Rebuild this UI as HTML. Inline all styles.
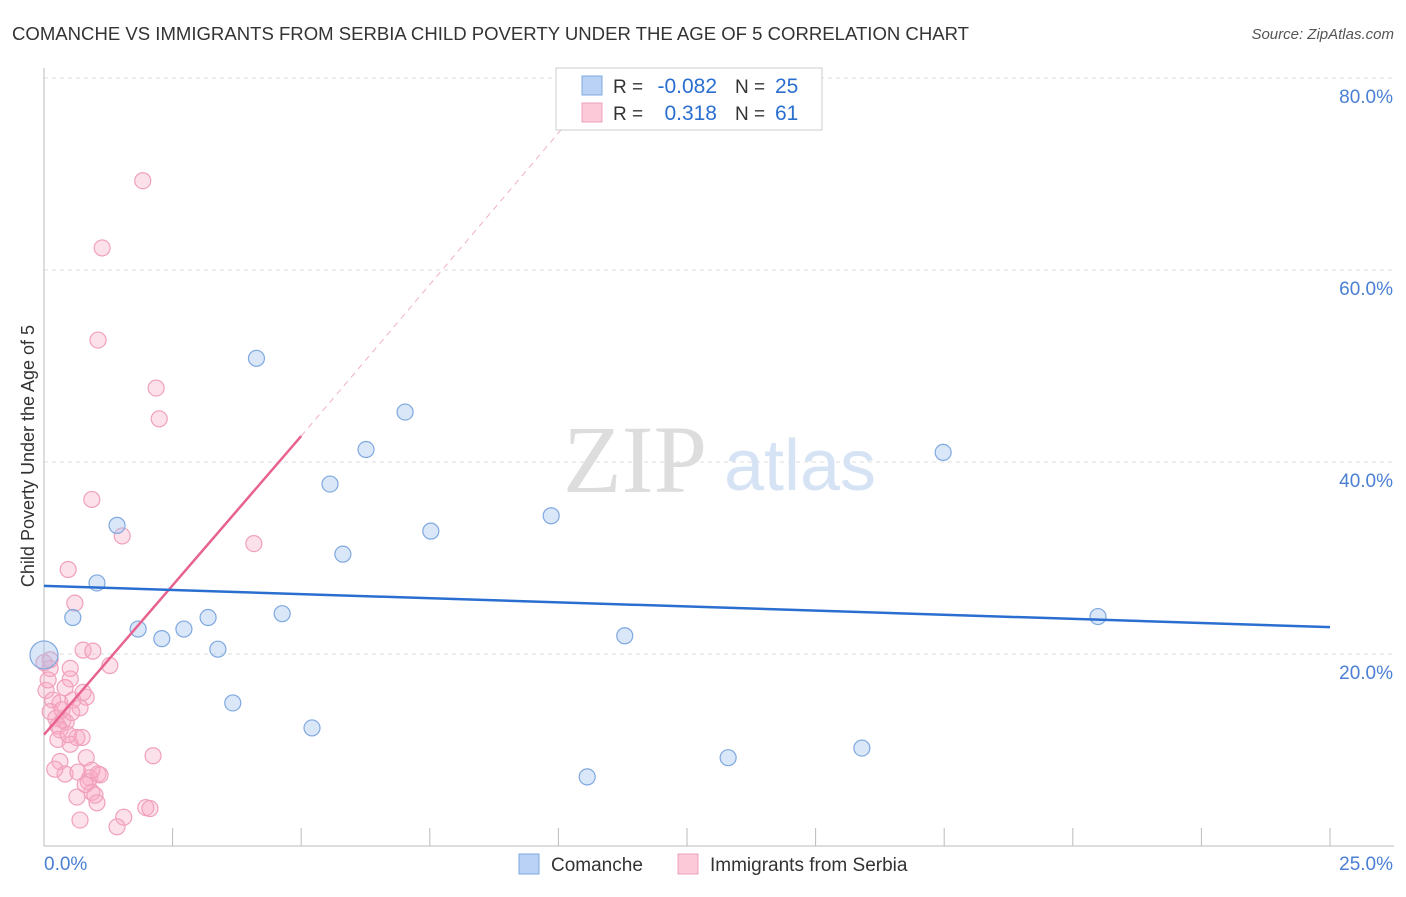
<!DOCTYPE html>
<html><head><meta charset="utf-8"><style>
body{margin:0;background:#fff;font-family:"Liberation Sans",sans-serif;}
#wrap{position:relative;width:1406px;height:892px;}
</style></head><body>
<div id="wrap">
<svg id="svg" width="1406" height="892"></svg>
</div>
<script>
const blueX=[4.13,7.02,6.26,17.48,5.56,9.86,1.42,7.52,5.81,1.03,0.56,3.19,4.63,1.83,2.72,2.29,11.29,20.49,3.38,0.0,3.67,5.21,15.9,13.3,10.56];
const blueY=[50.8,45.2,41.3,41.0,37.7,34.4,33.4,32.8,30.4,27.4,23.8,23.8,24.2,22.6,22.6,21.6,21.9,23.9,20.5,19.9,14.9,12.3,10.2,9.2,7.2];
const pinkX=[1.92,1.13,1.05,2.18,2.24,0.93,1.52,4.08,0.47,0.6,0.76,0.95,1.28,0,0.12,0.51,0.51,0.04,0.41,0.82,0.17,0.31,0.56,0.7,0.12,0.23,0.37,0.27,0.43,0.31,0.64,0.74,0.27,0.51,2.12,0.82,0.31,0.41,0.66,0.89,1.05,1.09,0.86,0.93,0.99,0.64,1.03,1.55,0.7,1.42,1.98,2.06,0.21,0.35,0.08,0.12,0.54,0.76,0.47,0.93,0.8];
const pinkY=[69.3,62.3,52.7,47.7,44.5,36.1,32.3,31.5,28.8,25.3,20.4,20.3,18.8,19.1,18.5,18.5,17.4,16.2,16.5,15.5,15.2,14.9,15.2,14.4,14.0,13.3,13.1,12.5,12.9,12.1,11.3,11.3,11.1,10.6,9.4,9.2,8.8,7.5,7.7,7.1,7.5,7.4,6.7,5.6,5.3,5.1,4.5,3.0,2.7,2.0,4.0,3.9,8.0,14.2,17.3,19.4,13.9,16.0,11.6,7.9,6.4];
const xTicks=["0.0%","25.0%"];
const yTicks=[20,40,60,80];
const blueLine=[[0,27.1],[25,22.8]];
const pinkLine=[[0,11.6],[5,42.7]];
const pinkDash=[[5,42.7],[10.4,76.8]];
const X=v=>44+v*51.44, Y=v=>846-v*9.6;
const svg=document.getElementById('svg');
const NS='http://www.w3.org/2000/svg';
function el(t,a,p){const e=document.createElementNS(NS,t);for(const k in a)e.setAttribute(k,a[k]);(p||svg).appendChild(e);return e;}
function tx(x,y,s,a){const e=el('text',Object.assign({x:x,y:y},a));e.textContent=s;return e;}
let t=tx(12,40,"COMANCHE VS IMMIGRANTS FROM SERBIA CHILD POVERTY UNDER THE AGE OF 5 CORRELATION CHART",{'font-size':18,fill:'#333',textLength:957,lengthAdjust:'spacingAndGlyphs'});


t=tx(1394,39,"Source: ZipAtlas.com",{'font-size':15,fill:'#555','text-anchor':'end','font-style':'italic'});


yTicks.forEach(v=>{
 const g=el('line',{x1:44,x2:1394,y1:Y(v),y2:Y(v),stroke:'#ddd','stroke-dasharray':'4,4'});
 
 
 const l=tx(1393,Y(v)+25,v.toFixed(1)+"%",{'font-size':19,fill:'#4a7fd4','text-anchor':'end'});
 
 
});
let a=el('line',{x1:44,x2:44,y1:68,y2:846,stroke:'#bbb'});


a=el('line',{x1:44,x2:1394,y1:846,y2:846,stroke:'#bbb'});


for(let i=0;i<=10;i++){const k=el('line',{x1:X(i*2.5),x2:X(i*2.5),y1:828,y2:846,stroke:'#bbb'});
 
 }
t=tx(44,870,xTicks[0],{'font-size':19,fill:'#4a7fd4'});


t=tx(1393,870,xTicks[1],{'font-size':19,fill:'#4a7fd4','text-anchor':'end'});


t=tx(0,0,"Child Poverty Under the Age of 5",{'font-size':18,fill:'#333','text-anchor':'middle',transform:'translate(34,456) rotate(-90)'});


t=tx(635,492,"ZIP",{'font-size':96,fill:'#ddd','text-anchor':'middle','font-family':'Liberation Serif'});


t=tx(800,490,"atlas",{'font-size':72,fill:'#d6e3f5','text-anchor':'middle'});


pinkX.forEach((v,i)=>{const c=el('circle',{cx:X(v),cy:Y(pinkY[i]),r:8,fill:'rgba(248,170,195,0.35)',stroke:'#f0a0bb','stroke-width':1.2});
 
 });
blueX.forEach((v,i)=>{const c=el('circle',{cx:X(v),cy:Y(blueY[i]),r:i==19?14:8,fill:'rgba(160,195,240,0.4)',stroke:'#7fa8e0','stroke-width':1.2});
 
 });
let L=el('line',{x1:X(pinkDash[0][0]),y1:Y(pinkDash[0][1]),x2:X(pinkDash[1][0]),y2:Y(pinkDash[1][1]),stroke:'#f0b0c5','stroke-dasharray':'6,5','stroke-width':1});


L=el('line',{x1:X(pinkLine[0][0]),y1:Y(pinkLine[0][1]),x2:X(pinkLine[1][0]),y2:Y(pinkLine[1][1]),stroke:'#e8628e','stroke-width':2.5});


L=el('line',{x1:X(blueLine[0][0]),y1:Y(blueLine[0][1]),x2:X(blueLine[1][0]),y2:Y(blueLine[1][1]),stroke:'#2a6fd0','stroke-width':2.5});


const lg=el('g',{});


el('rect',{x:556,y:68,width:266,height:62,fill:'#fff',stroke:'#ccc'},lg);
el('rect',{x:582,y:76,width:20,height:19,fill:'#b9d2f5',stroke:'#7fa8e0'},lg);
el('rect',{x:582,y:103,width:20,height:19,fill:'#fbc9d8',stroke:'#f0a0bb'},lg);
[["-0.082","25",93],["0.318","61",120]].forEach((r,i)=>{
 tx(613,r[2],"R =",{'font-size':19,fill:'#333'},lg);
 tx(717,r[2],r[0],{'font-size':21,fill:'#2a6fd0','text-anchor':'end'},lg);
 tx(735,r[2],"N =",{'font-size':19,fill:'#333'},lg);
 tx(775,r[2],r[1],{'font-size':21,fill:'#2a6fd0'},lg);
});
const bl=el('g',{});


el('rect',{x:519,y:854,width:20,height:20,fill:'#b9d2f5',stroke:'#7fa8e0'},bl);
tx(551,871,"Comanche",{'font-size':19,fill:'#333'},bl);
el('rect',{x:678,y:854,width:20,height:20,fill:'#fbc9d8',stroke:'#f0a0bb'},bl);
tx(710,871,"Immigrants from Serbia",{'font-size':19,fill:'#333'},bl);
</script>
</body></html>
